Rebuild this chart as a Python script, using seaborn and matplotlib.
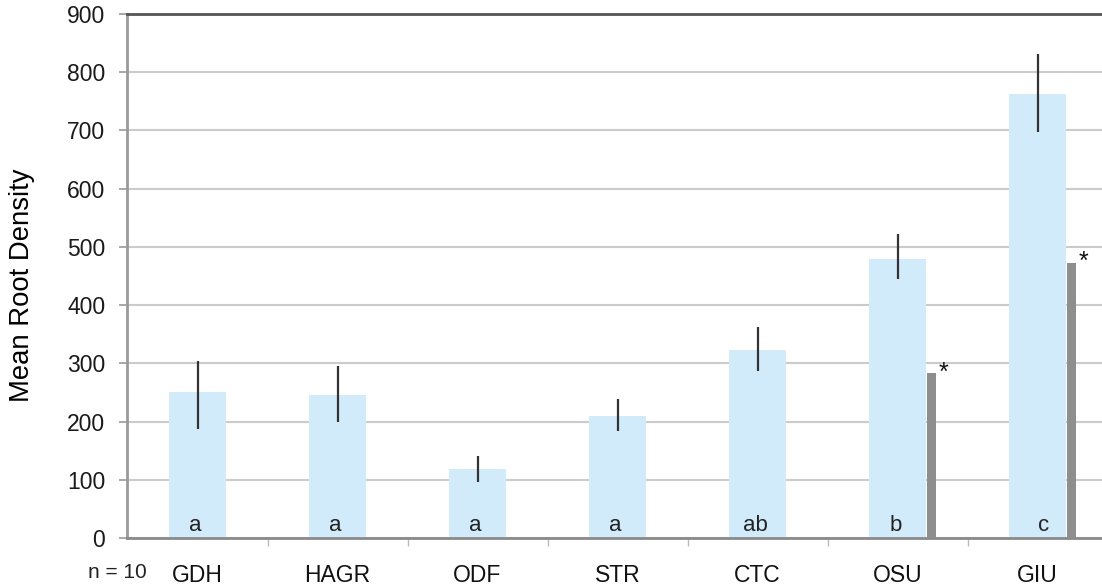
import matplotlib
matplotlib.use("Agg")
import matplotlib.pyplot as plt
import seaborn as sns
import pandas as pd
import numpy as np
from matplotlib.ticker import FixedLocator

# Mean root density per site, with error (half-length of bar)
sites = ["GDH", "HAGR", "ODF", "STR", "CTC", "OSU", "GIU"]
mean_density = [250, 245, 118, 210, 323, 480, 763]
err_center = [246, 247, 119, 211, 324, 483, 764]
err_half = [58, 48, 22, 27, 38, 39, 67]
# Secondary measurement shown for two sites only
second_sites = ["OSU", "GIU"]
second_values = [283, 473]
group_letters = ["a", "a", "a", "a", "ab", "b", "c"]
letter_offsets = [0.0, 0.0, 0.0, 0.0, 0.0, 0.0, 0.06]
y_ticks = [0, 100, 200, 300, 400, 500, 600, 700, 800, 900]

sns.set_theme(style="white")
plt.rcParams["font.family"] = ["Liberation Sans", "DejaVu Sans"]

W, H = 1102, 588
fig = plt.figure(figsize=(W / 100, H / 100), dpi=100)
ax = fig.add_axes([127.5 / W, (H - 538) / H, (W - 127.5) / W, (538 - 14) / H])

df = pd.DataFrame({"site": sites, "density": mean_density})
sns.barplot(data=df, x="site", y="density", order=sites, color="#D2EBFB",
            saturation=1, width=0.41, errorbar=None, ax=ax, zorder=2,
            edgecolor="none")

# Error bars (no caps)
xs = np.arange(len(sites))
ax.errorbar(xs, err_center, yerr=err_half, fmt="none", ecolor="#333333",
            elinewidth=1.6, capsize=0, zorder=4)

# Narrow grey bars beside the blue bars
sec_x = [sites.index(s) + 0.21 for s in second_sites]
ax.bar(sec_x, second_values, width=0.065, align="edge", color="#8E8E8E",
       zorder=3, linewidth=0)
for x, v in zip(sec_x, second_values):
    ax.text(x + 0.115, v + 1, "*", ha="center", va="center", fontsize=18,
            color="#111111", zorder=5)

# Group letters inside the bars
for i, (lab, off) in enumerate(zip(group_letters, letter_offsets)):
    ax.text(i - 0.015 + off, 12, lab, ha="center", va="baseline", fontsize=16,
            color="#222222", zorder=5)

ax.set_xlim(-0.5, 6.46)
ax.set_ylim(0, 900)
ax.yaxis.set_major_locator(FixedLocator(y_ticks))
ax.yaxis.grid(True, color="#CBCBCB", linewidth=1.5, zorder=0)
ax.set_axisbelow(True)

ax.tick_params(axis="y", which="major", length=6, width=1.2, color="#999999",
               pad=10, labelsize=16.5, labelcolor="#1A1A1A", left=True)
ax.tick_params(axis="x", which="major", length=0, pad=19, labelsize=16.5,
               labelcolor="#111111")
ax.xaxis.set_minor_locator(FixedLocator(np.arange(0.5, 6.0, 1.0)))
ax.tick_params(axis="x", which="minor", length=6, width=1.0, color="#BBBBBB",
               bottom=True)

ax.set_xlabel("")
ax.set_ylabel("")

ax.spines["right"].set_visible(False)
ax.spines["top"].set_color("#555555")
ax.spines["top"].set_linewidth(2.0)
ax.spines["left"].set_color("#9A9A9A")
ax.spines["left"].set_linewidth(2.0)
ax.spines["bottom"].set_color("#8A8A8A")
ax.spines["bottom"].set_linewidth(2.0)

fig.text(22 / W, 1 - 285 / H, "Mean Root Density", rotation=90, ha="center",
         va="center", fontsize=19.8, color="#000000")
fig.text(117 / W, 1 - 572 / H, "n = 10", ha="center", va="center",
         fontsize=15, color="#222222")

fig.savefig("out.png", dpi=100)
